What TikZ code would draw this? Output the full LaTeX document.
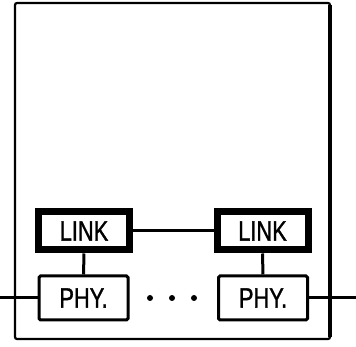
\documentclass[tikz,border=0pt]{standalone}
\usepackage{fontspec}
\newfontfamily\boxfont[FakeStretch=0.78,FakeBold=1.2]{Liberation Sans}
\usetikzlibrary{positioning}

\begin{document}
\begin{tikzpicture}[x=1pt, y=1pt,
    linkbox/.style={draw, line width=7pt, minimum width=91pt, minimum height=38pt, inner sep=0pt, font=\boxfont\fontsize{28}{28}\selectfont},
    phybox/.style={draw, line width=3pt, minimum width=89pt, minimum height=44pt, inner sep=0pt, rounded corners=1.5pt, font=\boxfont\fontsize{28}{28}\selectfont},
    wire/.style={line width=3pt}]
    \useasboundingbox (0,0) rectangle (356,347);
    \draw[line width=2.2pt, rounded corners=2pt] (15,8) rectangle (330,344);
    \draw[line width=3.5pt] (330,10) -- (330,342);
    \node[linkbox] (linkL) at ( 84,116) {LINK};
    \node[linkbox] (linkR) at (262.5,116) {LINK};
    \node[phybox]  (phyL)  at ( 83.5,49) {PHY.};
    \node[phybox]  (phyR)  at (263,49) {PHY.};
    \coordinate (inL)  at (  0,49);
    \coordinate (outR) at (356,49);
    \draw[wire] (linkL) -- (linkR);
    \draw[wire] (linkL) -- (phyL);
    \draw[wire] (linkR) -- (phyR);
    \draw[wire] (inL) -- (phyL);
    \draw[wire] (phyR) -- (outR);
    \foreach \x in {150,172,194}
        \fill (\x,49) circle (3pt);
\end{tikzpicture}
\end{document}
